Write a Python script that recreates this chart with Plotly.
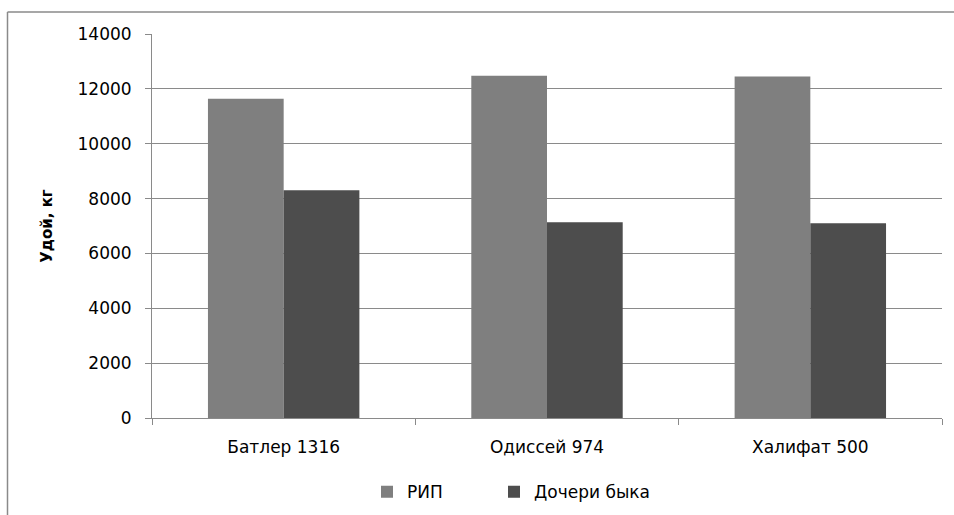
import plotly.graph_objects as go

# Bulls and milk yield (kg)
bulls = ["Батлер 1316", "Одиссей 974", "Халифат 500"]
rip_yield = [11640, 12480, 12450]
daughters_yield = [8300, 7140, 7100]
y_ticks = [0, 2000, 4000, 6000, 8000, 10000, 12000, 14000]

W, H = 954, 515
L, R, T, B = 152, 12, 33.5, 96.5
pw, ph = W - L - R, H - T - B

def px_x(x):
    return (x - L) / pw

def px_y(y):
    return (H - B - y) / ph

font = dict(family="DejaVu Sans", size=17, color="#000000")

fig = go.Figure()
fig.add_trace(go.Bar(name="РИП", x=bulls, y=rip_yield, marker_color="#7f7f7f",
                     marker_line_width=0, legend="legend"))
fig.add_trace(go.Bar(name="Дочери быка", x=bulls, y=daughters_yield,
                     marker_color="#4d4d4d", marker_line_width=0, legend="legend2"))

legend_style = dict(orientation="h", xanchor="left", yanchor="middle",
                    y=px_y(493), font=dict(size=17), itemwidth=30,
                    bgcolor="rgba(0,0,0,0)")

fig.update_layout(
    width=W, height=H,
    margin=dict(l=L, r=R, t=T, b=B, pad=0, autoexpand=False),
    paper_bgcolor="white", plot_bgcolor="white",
    barmode="group", bargap=0.425, bargroupgap=0,
    font=font,
    showlegend=True,
    legend=dict(x=px_x(367), **legend_style),
    legend2=dict(x=px_x(494), **legend_style),
    xaxis=dict(showgrid=False, showline=True, linecolor="#8a8a8a", linewidth=1,
               ticks="outside", ticklen=6, tickcolor="#8a8a8a",
               tickson="boundaries", tickfont=dict(size=17), ticklabelstandoff=14,
               automargin=False),
    yaxis=dict(range=[0, 14000], tickvals=y_ticks,
               ticktext=[str(v) for v in y_ticks], showgrid=True,
               gridcolor="#8a8a8a", gridwidth=1, showline=True,
               linecolor="#8a8a8a", linewidth=1, ticks="outside", ticklen=6,
               tickcolor="#8a8a8a", tickfont=dict(size=17), zeroline=False,
               ticklabelstandoff=10, automargin=False,
               title=dict(text="<b>Удой, кг</b>", font=dict(size=15), standoff=21)),
)

# Outer chart frame (top and left edges)
fig.add_shape(type="line", xref="paper", yref="paper",
              x0=px_x(7.5), y0=px_y(11.5), x1=px_x(W + 2), y1=px_y(11.5),
              line=dict(color="#8a8a8a", width=1.5))
fig.add_shape(type="line", xref="paper", yref="paper",
              x0=px_x(7.5), y0=px_y(11.5), x1=px_x(7.5), y1=px_y(H + 2),
              line=dict(color="#8a8a8a", width=1.5))

fig.write_html("out.html")
